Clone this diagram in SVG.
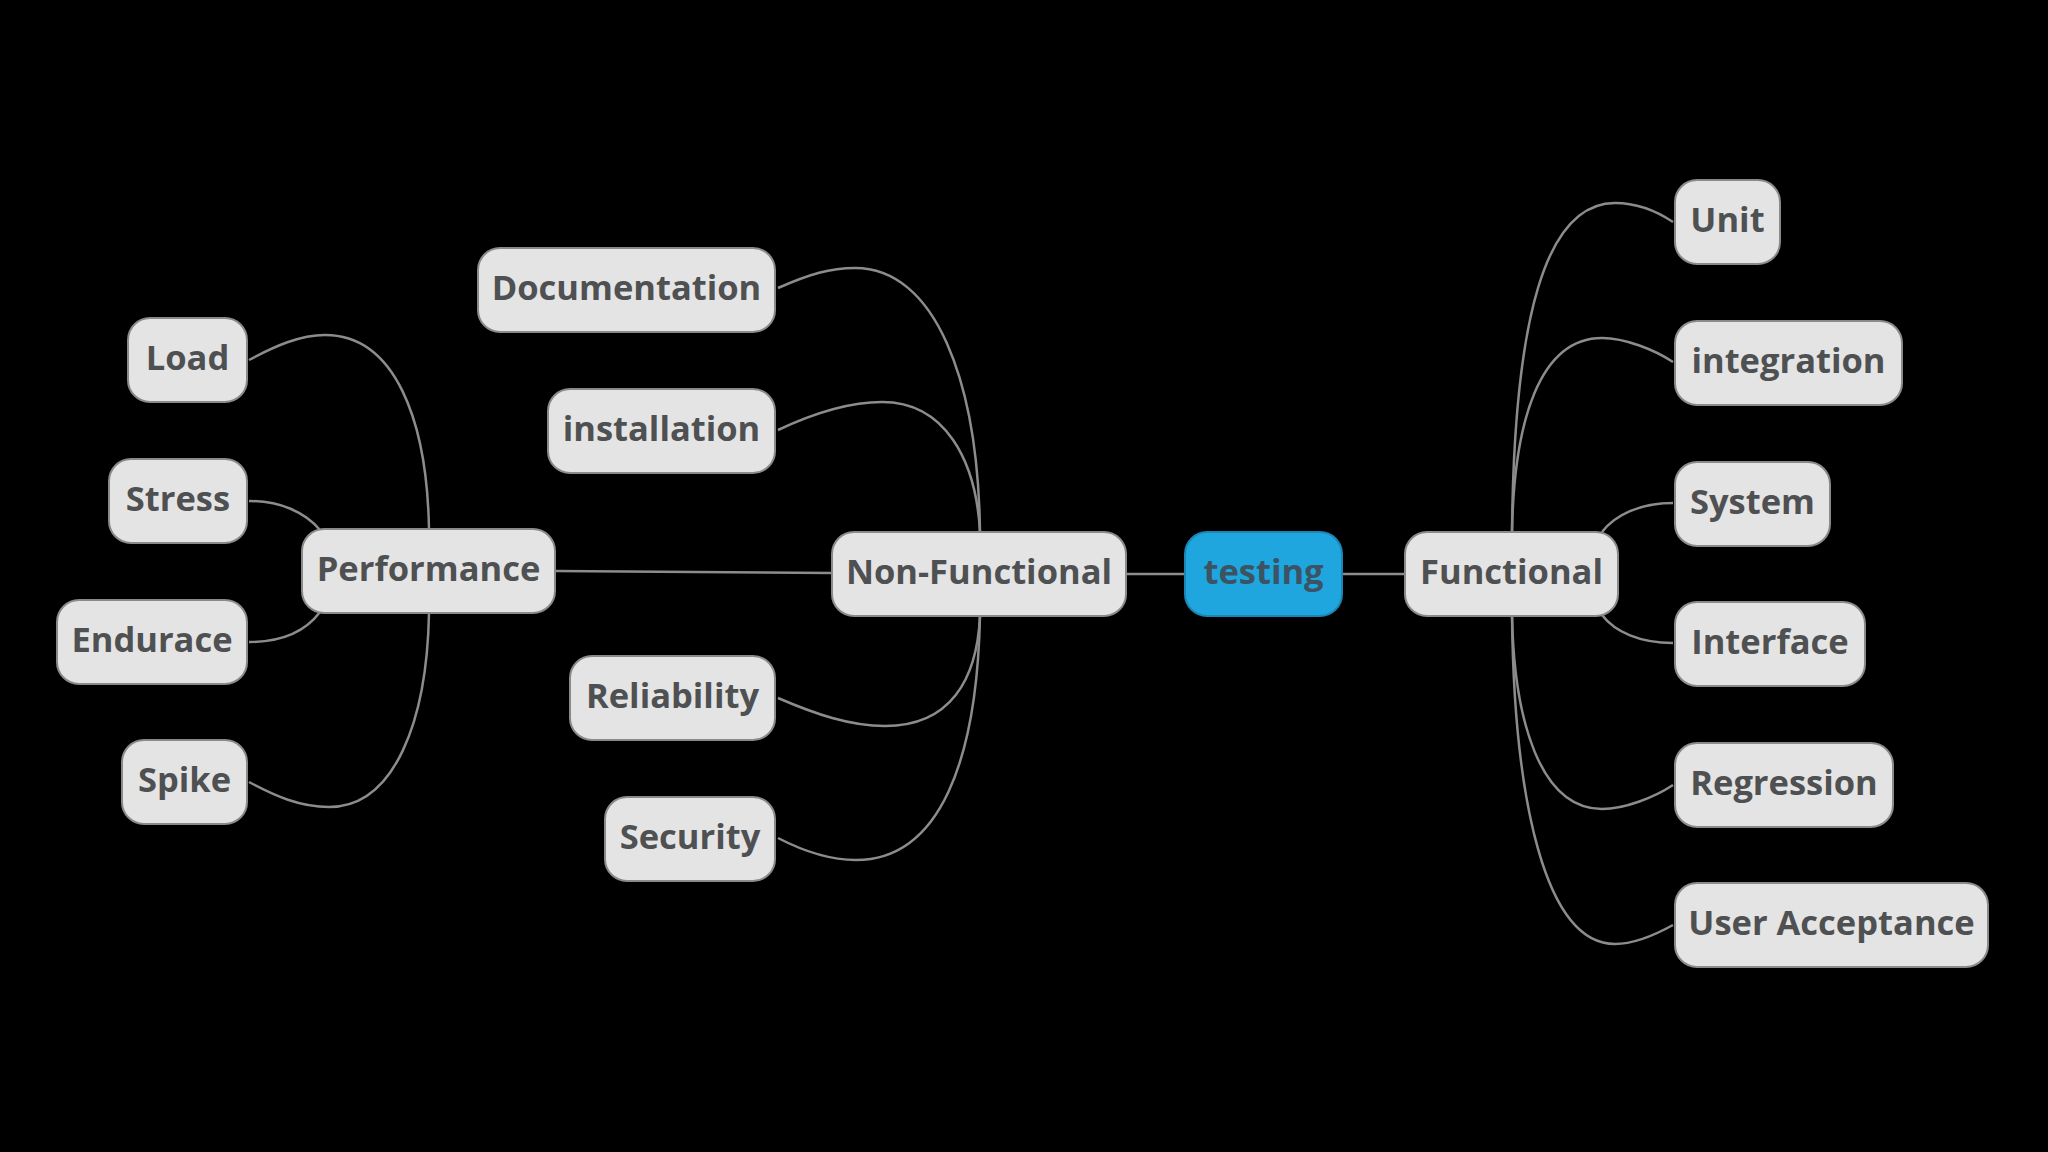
<svg xmlns="http://www.w3.org/2000/svg" width="2048" height="1152" viewBox="0 0 2048 1152">
<style>
.bg{fill:#000}
.n rect{fill:#e4e4e4;stroke:#8a8a8a;stroke-width:2}
.n.root rect{fill:#1fa6df;stroke:#1a86b5}
.n text{font-family:"Open Sans","Noto Sans","DejaVu Sans",sans-serif;font-weight:bold;font-size:34.5px;fill:#4e5052;text-anchor:middle}
.n.root text{fill:#3b5362}
.c path{fill:none;stroke:#8c8c8c;stroke-width:2.5}
</style>
<rect class="bg" x="0" y="0" width="2048" height="1152"/>
<g id="connectors" class="c">
<path d="M1126 574 L1185 574"/>
<path d="M1342 574 L1405 574"/>
<path d="M555 571 L832 573"/>
<path d="M778 288 C810 274 830 268 855 268 C935 268 978 380 980 532"/>
<path d="M778 430 C812 414 850 402 882 402 C945 402 976 460 980 532"/>
<path d="M778 698 C815 714 850 726 885 726 C950 726 977 680 980 616"/>
<path d="M778 838 C805 852 830 860 856 860 C940 860 977 760 980 616"/>
<path d="M249 360 C275 346 300 335 325 335 C395 335 427 420 429 529"/>
<path d="M249 501 C280 501 305 512 320 530"/>
<path d="M249 642 C280 642 305 632 320 612"/>
<path d="M249 782 C275 796 300 807 329 807 C395 807 427 720 429 613"/>
<path d="M1673 222 C1655 210 1635 203 1615 203 C1545 203 1514 320 1512 532"/>
<path d="M1673 362 C1655 350 1625 338 1602 338 C1540 338 1514 420 1512 532"/>
<path d="M1673 503 C1640 503 1615 515 1602 532"/>
<path d="M1602 615 C1615 632 1640 643 1673 643"/>
<path d="M1673 785 C1655 797 1625 809 1602 809 C1540 809 1514 720 1512 615"/>
<path d="M1673 925 C1655 935 1635 944 1615 944 C1545 944 1514 800 1512 615"/>
</g>
<g id="testing" class="n root"><rect x="1185" y="532" width="157" height="84" rx="22"/><text x="1263.5" y="584">testing</text></g>
<g id="functional" class="n"><rect x="1405" y="532" width="213" height="84" rx="22"/><text x="1511.5" y="584">Functional</text></g>
<g id="non-functional" class="n"><rect x="832" y="532" width="294" height="84" rx="22"/><text x="979" y="584">Non-Functional</text></g>
<g id="performance" class="n"><rect x="302" y="529" width="253" height="84" rx="22"/><text x="428.5" y="581">Performance</text></g>
<g id="load" class="n"><rect x="128" y="318" width="119" height="84" rx="22"/><text x="187.5" y="370">Load</text></g>
<g id="stress" class="n"><rect x="109" y="459" width="138" height="84" rx="22"/><text x="178" y="511">Stress</text></g>
<g id="endurace" class="n"><rect x="57" y="600" width="190" height="84" rx="22"/><text x="152" y="652">Endurace</text></g>
<g id="spike" class="n"><rect x="122" y="740" width="125" height="84" rx="22"/><text x="184.5" y="792">Spike</text></g>
<g id="documentation" class="n"><rect x="478" y="248" width="297" height="84" rx="22"/><text x="626.5" y="300">Documentation</text></g>
<g id="installation" class="n"><rect x="548" y="389" width="227" height="84" rx="22"/><text x="661.5" y="441">installation</text></g>
<g id="reliability" class="n"><rect x="570" y="656" width="205" height="84" rx="22"/><text x="672.5" y="708">Reliability</text></g>
<g id="security" class="n"><rect x="605" y="797" width="170" height="84" rx="22"/><text x="690" y="849">Security</text></g>
<g id="unit" class="n"><rect x="1675" y="180" width="105" height="84" rx="22"/><text x="1727.5" y="232">Unit</text></g>
<g id="integration" class="n"><rect x="1675" y="321" width="227" height="84" rx="22"/><text x="1788.5" y="373">integration</text></g>
<g id="system" class="n"><rect x="1675" y="462" width="155" height="84" rx="22"/><text x="1752.5" y="514">System</text></g>
<g id="interface" class="n"><rect x="1675" y="602" width="190" height="84" rx="22"/><text x="1770" y="654">Interface</text></g>
<g id="regression" class="n"><rect x="1675" y="743" width="218" height="84" rx="22"/><text x="1784" y="795">Regression</text></g>
<g id="user-acceptance" class="n"><rect x="1675" y="883" width="313" height="84" rx="22"/><text x="1831.5" y="935">User Acceptance</text></g>
</svg>
